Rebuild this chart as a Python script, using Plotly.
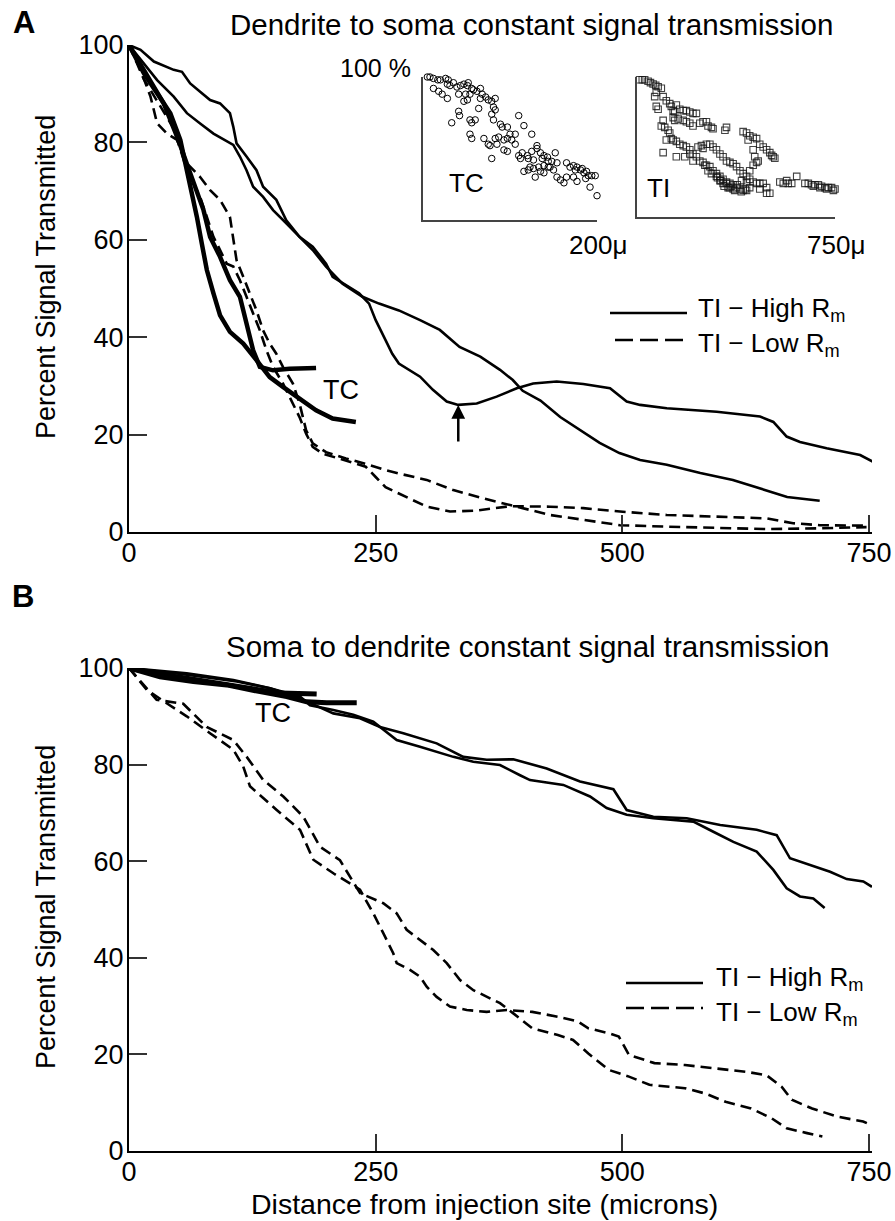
import plotly.graph_objects as go

FONT = "Liberation Sans, Arial, Helvetica, sans-serif"
W, H = 895, 1221

# ---------------- Panel A: dendrite -> soma ----------------
hiA1_x = [0, 28.5, 45.3, 58.7, 72.1, 85.6, 105.7, 112.4, 119.1, 125.8, 135.9, 146, 159.4, 172.8, 186.2, 199.7, 206.4,
          223.2, 233.2, 243.3, 250, 260, 266.8, 273.5, 295, 308, 322, 333.7, 352.4, 372.6, 393, 409.6, 433.5, 460.4,
          487.5, 504.4, 518, 545, 595.5, 639.5, 653, 666.5, 680, 707, 741, 754]
hiA1_y = [100, 92.8, 89.4, 86, 83.9, 81.8, 79.5, 77.1, 74.3, 70.9, 68.8, 66.1, 63.4, 60.6, 58.6, 55.1, 52.4,
          50.3, 49, 46.9, 43.5, 39.4, 36.6, 34.6, 31.9, 29.2, 26.8, 26.1, 26.4, 27.8, 29.5, 30.5, 30.9, 30.4,
          29.5, 26.8, 26.1, 25.4, 24.7, 23.7, 22.6, 19.6, 18.5, 17.2, 15.8, 14.4]
hiA2_x = [0, 11.7, 25.2, 45.3, 53.7, 62, 72.1, 82.2, 92.3, 102.3, 105.7, 109, 119.1, 129.2, 135.9, 149.3, 159.4,
          172.8, 186.2, 199.7, 216.4, 236.6, 253.4, 273.5, 295, 315, 335, 356, 376, 389, 399, 417, 437, 457, 477,
          497, 518, 545, 579, 612, 646, 667, 700]
hiA2_y = [100, 99, 96.6, 94.9, 94.5, 92.1, 90.4, 88.7, 88, 86, 83.2, 79.8, 77.1, 74.3, 70.9, 68.2, 64,
          60.6, 57.9, 54.5, 51, 48.3, 46.9, 45.5, 43.5, 41.5, 38, 36, 33.3, 31.2, 29, 27, 23.6, 21, 18.3,
          16.2, 14.8, 13.8, 12.1, 10.7, 8.6, 7.2, 6.4]
loA1_x = [0, 11.7, 21.8, 28.5, 38.6, 48.7, 58.7, 72.1, 82.2, 92.3, 102.3, 105.7, 109, 115.8, 122.5, 129.2, 135.9,
          142.6, 149.3, 156, 166.1, 172.8, 179.5, 186.2, 199.7, 219.8, 239.9, 260, 273.5, 301.7, 328.7, 359, 393,
          426.7, 460.4, 497.6, 545, 595.5, 646, 697, 747.5]
loA1_y = [100, 94.9, 89.4, 83.9, 81.8, 80.5, 75.7, 72.9, 70.2, 68.2, 64.7, 60.6, 55.8, 52.4, 49, 45.5, 41.4,
          38.7, 36.6, 33.9, 30.5, 26.4, 20.9, 18.2, 16.4, 15.1, 14, 12.7, 12, 10.7, 8.6, 6.9, 5.2,
          3.5, 2.5, 1.4, 1.1, 0.8, 0.6, 0.75, 1.0]
loA2_x = [0, 15, 30, 45, 58.7, 72.1, 78.9, 85.6, 92.3, 99, 105.7, 112.4, 119.1, 125.8, 132.6, 139.3, 146, 156,
          166.1, 172.8, 179.5, 186.2, 196.3, 219.8, 239.9, 250, 260, 273.5, 301.7, 325.3, 352.4, 386, 426.7, 460.4,
          497.6, 545, 612, 646, 673, 700, 745]
loA2_y = [100, 93, 88, 83, 74.3, 68.8, 64.7, 60.6, 57.9, 55.1, 54.5, 51.7, 48.3, 44.9, 41.4, 37.3, 33.9, 30.5,
          26.4, 23.6, 20.2, 17.5, 16.1, 14.7, 13.4, 11.3, 9.2, 7.9, 5.2, 4.2, 4.4, 5.3, 5.2, 4.9,
          4.2, 3.5, 3.1, 2.8, 1.8, 1.4, 1.3]
tcA1_x = [0, 15.1, 28.5, 41.9, 52, 57, 63.8, 68.8, 73.8, 78.9, 85.6, 92.3, 102.3, 115.8, 129.2, 142.6, 156, 172.8,
          189.6, 206.4, 229.9]
tcA1_y = [100, 94.2, 90.1, 86, 80.5, 75.7, 70.2, 64.7, 59.2, 53.8, 49, 44.5, 41.1, 38.7, 35.3, 31.8, 29.8, 27.4,
          25, 23.3, 22.6]
tcA2_x = [0, 18.5, 35.2, 48.7, 58.7, 68.8, 75.5, 82.2, 92.3, 102.3, 112.4, 119.1, 125.8, 132.6, 146, 162.8, 189.6]
tcA2_y = [100, 93.5, 88, 81.2, 75.7, 70.2, 66.1, 60.6, 56.5, 51.7, 48.3, 42.8, 37.3, 33.9, 33.2, 33.5, 33.7]

# arrow marking the local minimum
arrow_x, arrow_y = 333.7, 26.1

# ---------------- Inset scatter data (distance in microns, percent) ----------------
tc_in_x = [5, 8, 12, 17, 20, 26, 29, 28, 31, 35, 39, 43, 47, 51, 52, 56, 58, 62, 66, 68, 72, 75, 83, 12, 18, 22, 28,
           41, 49, 54, 66, 47, 51, 64, 79, 81, 83, 41, 42, 33, 54, 56, 60, 79, 81, 89, 91, 97, 100, 106, 110, 116,
           125, 54, 56, 70, 75, 77, 83, 87, 85, 93, 97, 102, 106, 79, 93, 97, 110, 112, 114, 120, 121, 125, 127,
           131, 131, 135, 137, 139, 143, 144, 146, 148, 152, 154, 116, 121, 127, 133, 139, 144, 150, 135, 123,
           129, 139, 154, 158, 162, 165, 169, 173, 175, 177, 181, 185, 183, 188, 190, 194, 198, 202, 206, 173,
           165, 177, 187, 192, 211, 200, 210, 229]
tc_in_y = [100, 100, 99, 98, 98, 99, 98, 95, 94, 96, 93, 94, 95, 94, 96, 92, 91, 90, 92, 88, 86, 84, 85, 92, 90, 88,
           85, 88, 88, 88, 85, 83, 84, 78, 83, 79, 77, 76, 73, 68, 70, 68, 70, 74, 70, 67, 65, 65, 60, 60, 73, 66,
           60, 60, 57, 57, 53, 52, 57, 58, 53, 56, 57, 56, 53, 43, 49, 48, 45, 43, 47, 45, 43, 48, 42,
           52, 50, 47, 43, 45, 44, 41, 37, 41, 47, 40, 34, 35, 36, 37, 38, 37, 35, 34, 37,
           30, 33, 30, 28, 26, 40, 37, 38, 35, 37, 35, 33, 36, 34, 31, 31, 31, 30, 31, 30,
           30, 27, 29, 23, 26, 17, 19, 29]
ti_in_x = [10, 20, 29, 42, 51, 61, 71, 80, 92, 73, 67, 73, 80, 99, 111, 124, 130, 137, 143, 149, 162, 175, 187, 200,
           212, 225, 137, 143, 156, 175, 187, 200, 212, 238, 250, 263, 269, 282, 288, 99, 92, 105, 118, 124, 130,
           137, 149, 162, 175, 187, 200, 212, 225, 238, 250, 263, 276, 288, 301, 314, 326, 339, 352, 364, 377, 390,
           402, 415, 99, 111, 149, 181, 200, 212, 231, 244, 250, 263, 276, 288, 301, 314, 326, 339, 352, 364, 377,
           390, 402, 415, 427, 440, 453, 465, 478, 491, 503, 491, 465, 427, 415, 396, 257, 269, 282, 301, 314, 326,
           345, 364, 333, 339, 402, 415, 427, 440, 453, 465, 478, 491, 503, 510, 516, 522, 459, 453, 440, 427, 446,
           440, 421, 605, 573, 541, 554, 586, 636, 649, 661, 674, 687, 699, 712, 725, 737, 750, 756, 744, 718, 693,
           668, 567, 330, 350, 370, 318, 338, 358, 380, 305, 395, 410]
ti_in_y = [98, 98, 98, 97, 96, 95, 94, 93, 92, 89, 86, 79, 77, 86, 83, 81, 79, 76, 75, 80, 77, 76, 76, 75,
           74, 74, 71, 69, 70, 69, 68, 67, 65, 67, 68, 68, 65, 64, 63, 69, 65, 64, 62, 60, 56,
           55, 54, 52, 51, 50, 48, 45, 43, 40, 39, 37, 36, 33, 31, 29, 27, 25, 24, 23, 21, 20,
           19, 19, 46, 55, 43, 43, 45, 40, 50, 51, 49, 52, 52, 50, 48, 45, 43, 40, 39, 38, 36,
           33, 31, 29, 27, 25, 24, 24, 24, 21, 17, 17, 20, 21, 25, 26, 37, 33, 31, 29, 26, 24,
           21, 20, 62, 64, 61, 60, 58, 57, 56, 52, 50, 48, 46, 44, 43, 42, 40, 39, 37, 33, 43,
           48, 55, 29, 24, 25, 24, 24, 24, 24, 23, 23, 23, 22, 21, 21, 21, 20, 20, 19, 20, 21,
           22, 26, 22, 21, 19, 26, 24, 22, 23, 28, 18, 20]

# ---------------- Panel B: soma -> dendrite ----------------
hiB1_x = [0, 58.5, 109.2, 142.9, 173.3, 183.4, 207.1, 227.3, 247.6, 271.3, 294.9, 328.7, 348.9, 376, 396.3, 406.4,
          440.2, 467.2, 484.1, 504.4, 531.4, 571.9, 592.2, 612.5, 636.1, 653, 666.5, 680, 693.5, 705]
hiB1_y = [100, 98.6, 97.2, 95.8, 94.1, 92.3, 91.3, 90.3, 88.9, 85.1, 83.7, 81.6, 80.6, 79.9, 77.8, 76.8,
          75.8, 73.4, 71, 69.6, 68.9, 68.2, 66.1, 64, 62, 58.2, 54.4, 52.7, 52.3, 50.3]
hiB2_x = [0, 58.5, 105.8, 142.9, 173.3, 207.1, 234.1, 254.4, 278, 311.8, 338.8, 362.5, 389.5, 423.3, 457.1, 490.9,
          504.4, 531.4, 565.2, 599.2, 636.1, 656.4, 669.9, 690.2, 710.5, 727.4, 744.2, 753]
hiB2_y = [100, 98.9, 97.5, 95.8, 93.7, 90.6, 89.6, 87.8, 86.5, 84.4, 81.6, 81, 81.1, 79.2, 76.5, 74.9,
          70.6, 69.2, 68.9, 67.5, 66.5, 65.4, 60.6, 59.2, 57.8, 56.3, 55.8, 54.7]
loB1_x = [0, 28, 55, 78.7, 105.7, 119.3, 136.1, 156.4, 176.7, 193.6, 213.8, 234.1, 257.7, 271.3, 281.4, 294.9, 308.4,
          322, 335.5, 349, 362.5, 376, 389.5, 408.7, 434.6, 450, 465.5, 486.1, 506.7, 527.4, 563.4, 584, 604.6,
          630.4, 651.1, 666.6, 687.2, 702.7]
loB1_y = [100, 93.4, 92.6, 87.8, 85.1, 81.6, 76.8, 73.4, 69.2, 63, 60.2, 53.4, 51.3, 49.2, 45.8, 43.7, 41.6,
          38.9, 35.4, 33.3, 31.9, 30.6, 28.5, 25.4, 24, 23, 20.2, 16.8, 15.4, 13.7, 13, 11.9, 10.2,
          8.8, 6.8, 4.7, 3.7, 3.0]
loB2_x = [0, 17.9, 38.2, 58.5, 82.1, 105.7, 115.8, 122.6, 149.7, 173.3, 186.8, 207.1, 234.1, 247.6, 257.7, 267.9,
          271.3, 284.8, 294.9, 301.7, 311.8, 325.3, 342.3, 362.5, 383, 408.7, 434.6, 455.1, 465.5, 486.1, 496.4,
          506.7, 532.5, 563.4, 594.4, 625.4, 646, 661.4, 671.7, 692.3, 718.1, 744, 753]
loB2_y = [100, 95.5, 92.7, 90, 86.5, 83.1, 79.6, 75.5, 70.6, 66.5, 60.3, 57.5, 54.1, 49.2, 45.1, 40.9,
          38.9, 37.5, 36.1, 34, 31.9, 29.9, 29.2, 28.8, 29.2, 28.8, 27.8, 26.8, 25.4, 24.4, 23.7,
          19.9, 18.2, 17.8, 17.1, 16.4, 15.7, 13.3, 10.6, 8.8, 7.1, 6.1, 5.3]
tcB1_x = [0, 24.7, 58.5, 92.2, 126, 153, 190.2]
tcB1_y = [100, 98.9, 97.9, 96.8, 95.8, 94.8, 94.6]
tcB2_x = [0, 31.4, 65.2, 99, 132.8, 159.8, 180, 200.4, 230.8]
tcB2_y = [100, 98.2, 97.2, 96.5, 95.1, 94.1, 93, 92.8, 92.8]

x_ticks = [0, 250, 500, 750]
y_ticks = [0, 20, 40, 60, 80, 100]

# ---------------- Figure ----------------
fig = go.Figure()

def px(x):
    return x / W

def py(y):
    return 1 - y / H

thin = 2.6
dash_style = "11px,6px"

def add_line(xs, ys, xa, ya, width, dash=None):
    fig.add_trace(go.Scatter(x=xs, y=ys, mode="lines", xaxis=xa, yaxis=ya, cliponaxis=False,
                             line=dict(color="black", width=width, dash=dash), showlegend=False,
                             hoverinfo="skip"))

# Panel A
add_line(hiA1_x, hiA1_y, "x", "y", thin)
add_line(hiA2_x, hiA2_y, "x", "y", thin)
add_line(loA1_x, loA1_y, "x", "y", thin, dash_style)
add_line(loA2_x, loA2_y, "x", "y", thin, dash_style)
add_line(tcA1_x, tcA1_y, "x", "y", 4.5)
add_line(tcA2_x, tcA2_y, "x", "y", 4.5)
# Panel B
add_line(hiB1_x, hiB1_y, "x2", "y2", thin)
add_line(hiB2_x, hiB2_y, "x2", "y2", thin)
add_line(loB1_x, loB1_y, "x2", "y2", thin, dash_style)
add_line(loB2_x, loB2_y, "x2", "y2", thin, dash_style)
add_line(tcB1_x, tcB1_y, "x2", "y2", 5)
add_line(tcB2_x, tcB2_y, "x2", "y2", 5)

# Insets
fig.add_trace(go.Scatter(x=tc_in_x, y=tc_in_y, mode="markers", xaxis="x3", yaxis="y3", cliponaxis=False,
                         marker=dict(symbol="circle-open", size=6.5, color="black", line=dict(width=1)),
                         showlegend=False, hoverinfo="skip"))
fig.add_trace(go.Scatter(x=ti_in_x, y=ti_in_y, mode="markers", xaxis="x4", yaxis="y4", cliponaxis=False,
                         marker=dict(symbol="square-open", size=6.5, color="rgba(20,20,20,0.8)",
                                     line=dict(width=1.1)),
                         showlegend=False, hoverinfo="skip"))

x_left, x_right = 129 / W, 872 / W
main_x = dict(range=[0, 753], showline=True, linecolor="black", linewidth=2, ticks="inside", ticklen=17,
              tickwidth=1.5, tickcolor="#333", tickvals=x_ticks, showgrid=False, zeroline=False,
              tickfont=dict(size=27, color="black", family=FONT), ticklabelstandoff=-4, automargin=False)
main_y = dict(range=[0, 100], showline=True, linecolor="black", linewidth=2, ticks="inside", ticklen=18,
              tickwidth=1.5, tickcolor="#333", tickvals=y_ticks, showgrid=False, zeroline=False,
              tickfont=dict(size=27, color="black", family=FONT), ticklabelstandoff=-2, automargin=False)
inset_ax = dict(showline=True, linecolor="#444", linewidth=1.5, ticks="", showticklabels=False,
                showgrid=False, zeroline=False, automargin=False)

fig.update_layout(
    template="none",
    width=W, height=H, margin=dict(l=0, r=0, t=0, b=0, pad=0),
    paper_bgcolor="white", plot_bgcolor="rgba(0,0,0,0)",
    font=dict(family=FONT, color="black", size=27),
    showlegend=False,
    xaxis=dict(domain=[x_left, x_right], anchor="y", **main_x),
    yaxis=dict(domain=[py(532), py(45)], anchor="x", **main_y),
    xaxis2=dict(domain=[x_left, x_right], anchor="y2", **main_x),
    yaxis2=dict(domain=[py(1151), py(668)], anchor="x2", **main_y),
    xaxis3=dict(domain=[px(423), px(597)], anchor="y3", range=[0, 200], **inset_ax),
    yaxis3=dict(domain=[py(220), py(77)], anchor="x3", range=[0, 100], **inset_ax),
    xaxis4=dict(domain=[px(637), px(835)], anchor="y4", range=[0, 750], **inset_ax),
    yaxis4=dict(domain=[py(217), py(77)], anchor="x4", range=[0, 100], **inset_ax),
)

def txt(x, y, s, size=27, xanchor="center", yanchor="middle", bold=False, angle=0):
    if bold:
        s = "<b>" + s + "</b>"
    fig.add_annotation(x=px(x), y=py(y), xref="paper", yref="paper", text=s, showarrow=False,
                       xanchor=xanchor, yanchor=yanchor, textangle=angle, borderpad=0,
                       font=dict(size=size, family=FONT, color="black"))

txt(24, 22, "A", 31, bold=True)
txt(23, 596, "B", 31, bold=True)
txt(531, 24, "Dendrite to soma constant signal transmission", 29.5)
txt(527, 646, "Soma to dendrite constant signal transmission", 29.5)
txt(46, 277, "Percent Signal Transmitted", 27, angle=-90)
txt(46, 907, "Percent Signal Transmitted", 27, angle=-90)
txt(484, 1221, "Distance from injection site (microns)", 28.5, yanchor="bottom")
txt(341, 390, "TC", 27)
txt(273, 713, "TC", 27)
# inset labels
txt(412, 68, "100 %", 25, xanchor="right")
txt(467, 183, "TC", 26)
txt(658, 188, "TI", 26)
txt(598, 245, "200μ", 26)
txt(836, 245, "750μ", 26)

# legends (line key + label); label boxes anchored away from each other
legend_rows = [(313, 610, 687, 697, "TI − High R<sub>m</sub>", None, "bottom", 327),
               (340, 615, 687, 697, "TI − Low R<sub>m</sub>", "18px,7px", "top", 327),
               (983, 626, 703, 715, "TI − High R<sub>m</sub>", None, "bottom", 996),
               (1008, 626, 703, 715, "TI − Low R<sub>m</sub>", "18px,7px", "top", 996)]
for yy, x0, x1, xt, label, dsh, ya, yt in legend_rows:
    fig.add_shape(type="line", xref="paper", yref="paper", x0=px(x0), x1=px(x1), y0=py(yy), y1=py(yy),
                  line=dict(color="black", width=2.6, dash=dsh))
    txt(xt, yt, label, 26, xanchor="left", yanchor=ya)

# arrow
fig.add_annotation(x=arrow_x, y=arrow_y, xref="x", yref="y", text="", showarrow=True, ax=0, ay=38,
                   arrowhead=2, arrowsize=1.1, arrowwidth=2.5, arrowcolor="black", standoff=0)

fig.write_html("out.html")
